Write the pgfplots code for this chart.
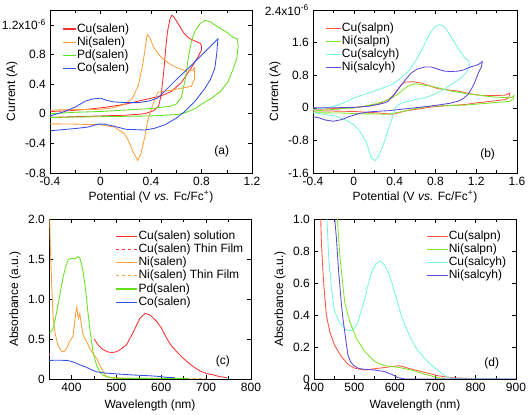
\documentclass[border=0pt]{standalone}
\usepackage{fontspec}
\setmainfont{Liberation Sans}
\usepackage{pgfplots}
\pgfplotsset{compat=1.18}
\definecolor{cred}{RGB}{255,45,45}
\definecolor{corange}{RGB}{255,160,60}
\definecolor{cgreen}{RGB}{100,225,30}
\definecolor{cblue}{RGB}{50,80,225}
\definecolor{bred}{RGB}{255,85,65}
\definecolor{bgreen}{RGB}{125,230,40}
\definecolor{bcyan}{RGB}{120,245,225}
\definecolor{bpurple}{RGB}{95,70,215}
\newcommand{\fs}{\fontsize{12bp}{14bp}\selectfont}
\pgfplotsset{
  panel/.style={
    scale only axis, anchor=south west, tick align=inside,
    xtick pos=both, ytick pos=both,
    major tick length=4bp, minor tick length=3bp,
    tick style={black, line width=0.5bp},
    axis line style={line width=0.6bp},
    every tick label/.append style={font=\fs},
    label style={font=\fs},
    legend style={draw=none, fill=none, inner sep=0pt, font=\fs,
      nodes={inner sep=0.6bp, text height=9bp, text depth=3bp},
      row sep=0pt},
    legend cell align=left,
    every axis plot/.append style={line width=0.85bp},
  },
}
\begin{document}
\fs
\begin{tikzpicture}[font=\fs]
\useasboundingbox (0,0) rectangle (529bp,415bp);
% ---------------- (a)
\begin{axis}[panel, at={(50bp,242bp)}, width=202bp, height=163bp,
  xmin=-0.4, xmax=1.2, ymin=-0.8, ymax=1.4,
  xtick={-0.4,0,0.4,0.8,1.2}, xticklabels={-0.4,0,0.4,0.8,1.2},
  minor xtick={-0.2,0.2,0.6,1.0},
  ytick={-0.8,-0.4,0,0.4,0.8,1.2},
  yticklabels={-0.8,-0.4,0,0.4,0.8,1.2x10\textsuperscript{-6}},
  xlabel={Potential (V \textit{vs.} Fc/Fc\textsuperscript{+})},
  ylabel={Current (A)},
  xlabel style={at={(axis description cs:0.5,-0.147)}, anchor=center},
  ylabel style={at={(axis description cs:-0.188,0.5)}, anchor=center},
  legend image code/.code={\draw[#1, line width=1.1bp] (0bp,0bp) -- (13bp,0bp);},
  legend style={at={(axis description cs:0.06,0.925)}, anchor=north west},
]
\addplot[cred] coordinates {(-0.4,-0.05) (-0.2,-0.04) (0,-0.03) (0.2,-0.02) (0.35,0.0) (0.42,0.04) (0.46,0.1) (0.48,0.25) (0.5,0.55) (0.515,0.85) (0.53,1.1) (0.55,1.28) (0.565,1.33) (0.58,1.31) (0.62,1.2) (0.66,1.09) (0.7,1.02) (0.75,0.98) (0.79,0.95) (0.8,0.92) (0.8,0.86) (0.77,0.76) (0.72,0.62) (0.64,0.42) (0.56,0.3) (0.48,0.24) (0.35,0.19) (0.2,0.13) (0.05,0.09) (-0.1,0.06) (-0.25,0.04) (-0.4,0.03)};
\addlegendentry{Cu(salen)}
\addplot[corange] coordinates {(-0.4,0.05) (-0.2,0.055) (0,0.06) (0.1,0.08) (0.18,0.12) (0.25,0.2) (0.3,0.38) (0.34,0.72) (0.37,1.07) (0.39,1.03) (0.42,0.9) (0.48,0.76) (0.55,0.67) (0.62,0.61) (0.68,0.58) (0.73,0.58) (0.745,0.62) (0.745,0.47) (0.72,0.37) (0.6,0.33) (0.5,0.3) (0.455,0.29) (0.42,0.15) (0.39,0.0) (0.375,-0.09) (0.35,-0.32) (0.32,-0.54) (0.295,-0.63) (0.26,-0.52) (0.22,-0.36) (0.19,-0.27) (0.11,-0.18) (0,-0.15) (-0.2,-0.14) (-0.4,-0.136)};
\addlegendentry{Ni(salen)}
\addplot[cgreen] coordinates {(-0.4,0.0) (-0.2,0.02) (0,0.03) (0.2,0.05) (0.4,0.07) (0.55,0.1) (0.6,0.13) (0.64,0.22) (0.67,0.45) (0.7,0.8) (0.72,0.98) (0.75,1.12) (0.79,1.22) (0.83,1.26) (0.87,1.24) (0.93,1.17) (1.0,1.1) (1.05,1.03) (1.085,1.01) (1.09,0.9) (1.08,0.75) (1.05,0.6) (1.01,0.43) (0.95,0.3) (0.88,0.21) (0.8,0.13) (0.75,0.07) (0.68,0.02) (0.615,-0.01) (0.4,-0.03) (0,-0.04) (-0.4,-0.05)};
\addlegendentry{Pd(salen)}
\addplot[cblue] coordinates {(-0.4,-0.03) (-0.3,0.02) (-0.2,0.09) (-0.12,0.17) (-0.06,0.2) (0,0.21) (0.05,0.18) (0.1,0.16) (0.2,0.15) (0.3,0.15) (0.38,0.17) (0.45,0.21) (0.5,0.29) (0.6,0.46) (0.7,0.62) (0.8,0.79) (0.93,1.01) (0.92,0.8) (0.905,0.61) (0.87,0.46) (0.826,0.34) (0.75,0.17) (0.668,0.03) (0.6,-0.06) (0.51,-0.15) (0.42,-0.2) (0.35,-0.22) (0.2,-0.21) (0.11,-0.17) (0.03,-0.14) (-0.02,-0.14) (-0.1,-0.18) (-0.2,-0.2) (-0.4,-0.23)};
\addlegendentry{Co(salen)}
\node[font=\fs] at (axis description cs:0.85,0.13) {(a)};
\end{axis}
% ---------------- (b)
\begin{axis}[panel, at={(313bp,242bp)}, width=204bp, height=163bp,
  xmin=-0.4, xmax=1.6, ymin=-1.6, ymax=2.4,
  xtick={-0.4,0,0.4,0.8,1.2,1.6}, xticklabels={-0.4,0,0.4,0.8,1.2,1.6},
  minor xtick={-0.2,0.2,0.6,1.0,1.4},
  ytick={-1.6,-0.8,0,0.8,1.6,2.4},
  yticklabels={-1.6,-0.8,0,0.8,1.6,2.4x10\textsuperscript{-6}},
  xlabel={Potential (V \textit{vs.} Fc/Fc\textsuperscript{+})},
  ylabel={Current (A)},
  xlabel style={at={(axis description cs:0.5,-0.147)}, anchor=center},
  ylabel style={at={(axis description cs:-0.186,0.5)}, anchor=center},
  legend image code/.code={\draw[#1, line width=1.1bp] (0bp,0bp) -- (15bp,0bp);},
  legend style={at={(axis description cs:0.059,0.93)}, anchor=north west},
]
\addplot[bred] coordinates {(-0.4,-0.04) (-0.2,-0.02) (0,0.0) (0.15,0.05) (0.25,0.1) (0.3,0.16) (0.35,0.22) (0.4,0.33) (0.44,0.48) (0.466,0.57) (0.5,0.63) (0.58,0.64) (0.66,0.61) (0.74,0.54) (0.825,0.47) (0.92,0.44) (1.02,0.41) (1.13,0.35) (1.25,0.3) (1.38,0.3) (1.48,0.31) (1.53,0.36) (1.52,0.25) (1.48,0.2) (1.35,0.16) (1.2,0.12) (1.09,0.08) (0.9,0.05) (0.76,0.02) (0.6,-0.04) (0.5,-0.08) (0.43,-0.13) (0.37,-0.16) (0.3,-0.14) (0.2,-0.12) (0,-0.09) (-0.2,-0.08) (-0.4,-0.08)};
\addlegendentry{Cu(salpn)}
\addplot[bgreen] coordinates {(-0.4,-0.08) (-0.2,-0.04) (0,0.0) (0.1,0.04) (0.2,0.09) (0.3,0.16) (0.37,0.24) (0.43,0.33) (0.48,0.44) (0.53,0.53) (0.6,0.59) (0.68,0.56) (0.76,0.53) (0.86,0.47) (0.956,0.41) (1.1,0.35) (1.25,0.3) (1.4,0.26) (1.54,0.245) (1.57,0.3) (1.56,0.2) (1.53,0.16) (1.45,0.14) (1.35,0.12) (1.2,0.09) (1.09,0.065) (0.9,0.05) (0.76,0.04) (0.6,-0.02) (0.5,-0.08) (0.42,-0.12) (0.335,-0.16) (0.2,-0.15) (0.1,-0.15) (-0.1,-0.13) (-0.4,-0.12)};
\addlegendentry{Ni(salpn)}
\addplot[bcyan] coordinates {(-0.4,-0.04) (-0.3,-0.01) (-0.2,0.03) (-0.1,0.12) (0,0.24) (0.1,0.33) (0.2,0.41) (0.3,0.5) (0.37,0.57) (0.42,0.65) (0.47,0.75) (0.52,0.86) (0.56,0.98) (0.61,1.17) (0.66,1.39) (0.71,1.65) (0.76,1.88) (0.8,2.0) (0.84,2.04) (0.88,2.0) (0.92,1.88) (0.97,1.67) (1.02,1.47) (1.06,1.32) (1.09,1.22) (1.126,1.16) (1.136,1.02) (1.1,0.86) (1.05,0.73) (0.956,0.57) (0.88,0.45) (0.825,0.37) (0.76,0.3) (0.695,0.245) (0.6,0.2) (0.53,0.16) (0.46,0.11) (0.41,0.02) (0.37,-0.3) (0.335,-0.55) (0.29,-0.9) (0.24,-1.2) (0.205,-1.3) (0.17,-1.22) (0.12,-0.82) (0.057,-0.57) (0,-0.41) (-0.09,-0.29) (-0.19,-0.2) (-0.4,-0.12)};
\addlegendentry{Cu(salcyh)}
\addplot[bpurple] coordinates {(-0.4,0.0) (-0.2,0.0) (0,0.01) (0.15,0.04) (0.237,0.08) (0.3,0.12) (0.335,0.16) (0.38,0.28) (0.433,0.45) (0.5,0.67) (0.56,0.85) (0.62,0.95) (0.695,1.0) (0.76,1.0) (0.82,0.95) (0.89,0.9) (0.95,0.89) (1.02,0.9) (1.08,0.93) (1.12,0.98) (1.17,1.02) (1.22,1.06) (1.26,1.13) (1.25,1.0) (1.22,0.85) (1.185,0.62) (1.15,0.45) (1.12,0.33) (1.07,0.22) (1.02,0.16) (0.94,0.11) (0.86,0.08) (0.75,0.04) (0.6,0.0) (0.45,-0.04) (0.35,-0.07) (0.27,-0.08) (0.15,-0.1) (0.05,-0.14) (-0.05,-0.22) (-0.12,-0.29) (-0.2,-0.33) (-0.28,-0.3) (-0.35,-0.24) (-0.4,-0.22)};
\addlegendentry{Ni(salcyh)}
\node[font=\fs] at (axis description cs:0.856,0.117) {(b)};
\end{axis}
% ---------------- (c)
\begin{axis}[panel, at={(49bp,36bp)}, width=202bp, height=160bp,
  xmin=350, xmax=800, ymin=0, ymax=2,
  xtick={400,500,600,700,800}, xticklabels={400,500,600,700,800},
  minor xtick={350,450,550,650,750},
  ytick={0,0.5,1,1.5,2}, yticklabels={0,0.5,1.0,1.5,2.0},
  xlabel={Wavelength (nm)}, ylabel={Absorbance (a.u.)},
  xlabel style={at={(axis description cs:0.5,-0.1625)}, anchor=center},
  ylabel style={at={(axis description cs:-0.168,0.5)}, anchor=center},
  legend image code/.code={\draw[#1, line width=1.1bp] (0bp,0bp) -- (21bp,0bp);},
  legend style={at={(axis description cs:0.33,0.935)}, anchor=north west},
]
\addplot[cred] coordinates {(450.6,0.5) (460,0.42) (470,0.37) (480,0.34) (490,0.33) (500,0.34) (512,0.38) (523,0.43) (538,0.59) (552.7,0.76) (564,0.82) (575,0.8) (590,0.72) (600,0.64) (612,0.51) (622,0.42) (634.6,0.34) (645,0.28) (657,0.22) (670,0.16) (686.8,0.10) (700,0.07) (716.6,0.05) (730,0.03) (746,0.017)};
\addlegendentry{Cu(salen) solution}
\addplot[cred, dashed] coordinates {(350,0.33) (351,0.3) (352,0.28)};
\addlegendentry{Cu(salen) Thin Film}
\addplot[corange] coordinates {(351.6,2.0) (353,1.65) (355,1.34) (357,1.05) (359,0.8) (362,0.62) (366,0.51) (370,0.42) (374,0.38) (378,0.35) (381,0.34) (385,0.35) (389,0.38) (393,0.43) (396,0.47) (400,0.5) (404,0.55) (407,0.7) (410,0.84) (412,0.9) (414,0.8) (416,0.76) (418.6,0.82) (421,0.72) (426,0.55) (433.5,0.47) (441,0.38) (448,0.32) (456,0.26) (463,0.175) (470.8,0.09) (478,0.03) (490,0.015) (538,0.01) (600,0.008) (640,0.006)};
\addlegendentry{Ni(salen)}
\addplot[corange, dashed] coordinates {(630,0.006) (660,0.005) (700,0.005)};
\addlegendentry{Ni(salen) Thin Film}
\addplot[cgreen] coordinates {(351.6,0.58) (355,0.6) (359,0.63) (364,0.75) (370,0.925) (375,1.08) (381,1.26) (387,1.4) (392.6,1.49) (400,1.51) (407.4,1.5) (411,1.52) (415,1.53) (418.6,1.51) (422,1.45) (426,1.34) (430,1.18) (433.5,1.01) (437,0.82) (441,0.63) (445,0.46) (448,0.34) (452,0.25) (456,0.175) (463,0.09) (470,0.05) (478,0.03) (490,0.015) (500.6,0.008) (560,0.005) (660,0.005)};
\addlegendentry{Pd(salen)}
\addplot[cblue] coordinates {(350,0.233) (370,0.234) (389,0.233) (400,0.22) (411,0.196) (422,0.17) (433.5,0.146) (445,0.115) (456,0.09) (470,0.078) (485.7,0.07) (510,0.06) (538,0.05) (575,0.04) (600,0.03) (612,0.02) (630,0.017)};
\addlegendentry{Co(salen)}
\node[font=\fs] at (axis description cs:0.861,0.108) {(c)};
\end{axis}
% ---------------- (d)
\begin{axis}[panel, at={(314bp,36bp)}, width=202bp, height=160bp,
  xmin=400, xmax=900, ymin=0, ymax=1,
  xtick={400,500,600,700,800,900}, xticklabels={400,500,600,700,800,900},
  minor xtick={450,550,650,750,850},
  ytick={0,0.2,0.4,0.6,0.8,1}, yticklabels={0,0.2,0.4,0.6,0.8,1.0},
  xlabel={Wavelength (nm)}, ylabel={Absorbance (a.u.)},
  xlabel style={at={(axis description cs:0.5,-0.1625)}, anchor=center},
  ylabel style={at={(axis description cs:-0.168,0.5)}, anchor=center},
  legend image code/.code={\draw[#1, line width=1.1bp] (0bp,0bp) -- (21bp,0bp);},
  legend style={at={(axis description cs:0.554,0.935)}, anchor=north west},
]
\addplot[bred] coordinates {(416.6,1.0) (418,0.88) (420,0.775) (422.5,0.66) (425,0.567) (430.6,0.4) (439,0.296) (451,0.21) (468,0.14) (484,0.092) (501,0.067) (526,0.056) (559,0.067) (592,0.077) (608.6,0.083) (620,0.078) (633,0.067) (666.5,0.046) (708,0.02) (741,0.008) (774,0.004) (791,0.003)};
\addlegendentry{Cu(salpn)}
\addplot[bgreen] coordinates {(458,1.0) (461,0.88) (464,0.77) (468,0.67) (476,0.48) (488.6,0.358) (505,0.254) (526,0.17) (551,0.108) (575.5,0.083) (608.6,0.073) (641.7,0.056) (675,0.029) (708,0.008) (724.5,0.002)};
\addlegendentry{Ni(salpn)}
\addplot[bcyan] coordinates {(432,1.0) (436,0.775) (443,0.567) (451,0.42) (463.7,0.35) (480,0.306) (494,0.302) (501,0.32) (509,0.358) (517,0.43) (526,0.504) (534,0.59) (542,0.665) (553,0.72) (564.7,0.7375) (575.5,0.71) (583,0.67) (592,0.608) (600,0.54) (608.6,0.4625) (616,0.4) (625,0.3375) (633,0.29) (641.7,0.244) (654,0.19) (666.5,0.15) (679,0.115) (691,0.0875) (704,0.06) (716,0.035) (733,0.008) (750,0.002) (900,0.0)};
\addlegendentry{Cu(salcyh)}
\addplot[bpurple] coordinates {(451.3,1.0) (455.5,0.88) (461,0.67) (468,0.4625) (472,0.37) (476,0.296) (480,0.22) (484,0.15) (490,0.11) (497,0.0875) (507,0.07) (517.5,0.0625) (550.7,0.056) (575.5,0.046) (592,0.029) (608.6,0.008) (625,0.0) (900,0.0)};
\addlegendentry{Ni(salcyh)}
\node[font=\fs] at (axis description cs:0.88,0.098) {(d)};
\end{axis}
\end{tikzpicture}
\end{document}
